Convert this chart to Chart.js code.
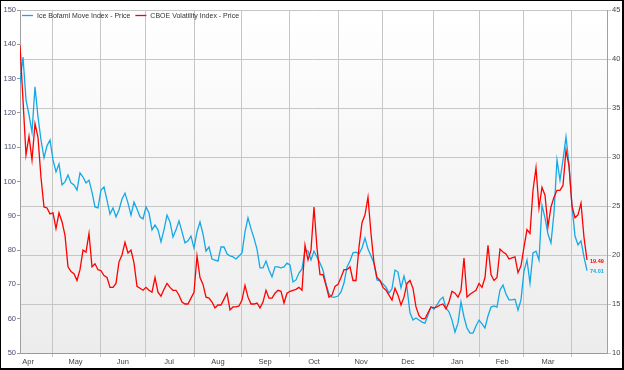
<!DOCTYPE html>
<html>
<head>
<meta charset="utf-8">
<script src="https://cdn.jsdelivr.net/npm/chart.js@4"></script>
<style>
  html, body { margin: 0; padding: 0; background: #fff; }
  #wrap {
    width: 621px; height: 367px; position: relative;
    border-style: solid; border-color: #000; border-width: 1px 2px 2px 1px;
  }
</style>
</head>
<body>
<div id="wrap"><canvas id="chart"></canvas></div>
<script>
// one value per sample step (Apr .. early Apr)
const moveValues = [
  128.7, 136.3, 123.8, 119.4, 114.4, 127.6, 118.8, 112.1, 106.9, 110.4,
  112.1, 106.3, 102.8, 105.1, 99.0, 99.9, 101.9, 99.6, 99.0, 97.5,
  102.5, 101.3, 99.6, 100.4, 96.9, 92.6, 92.3, 97.5, 98.4, 94.6,
  90.5, 92.3, 89.7, 91.7, 94.9, 96.6, 93.7, 90.2, 94.0, 92.0,
  89.7, 89.1, 92.6, 90.8, 85.9, 87.3, 85.9, 82.4, 85.9, 90.2,
  88.2, 83.8, 85.9, 88.5, 85.3, 82.1, 82.7, 84.1, 80.6, 85.3,
  88.2, 84.7, 79.7, 80.9, 77.4, 77.1, 76.8, 80.9, 80.9, 78.9,
  78.3, 78.0, 77.4, 78.3, 79.2, 85.3, 89.4, 86.2, 83.5, 80.3,
  74.8, 74.8, 76.8, 74.2, 72.2, 75.1, 75.1, 74.8, 75.1, 76.2,
  75.7, 70.7, 71.3, 73.3, 74.5, 80.0, 79.7, 77.1, 79.7, 78.0,
  76.2, 74.2, 70.1, 67.2, 66.3, 66.3, 66.6, 67.8, 70.4, 75.1,
  76.8, 79.2, 79.4, 78.9, 80.6, 83.5, 80.3, 78.3, 76.2, 71.3,
  71.0, 70.1, 69.2, 67.5, 68.7, 74.2, 73.6, 69.0, 72.4, 69.0,
  61.7, 59.6, 60.2, 59.6, 59.0, 58.7, 61.1, 63.4, 62.8, 64.0,
  65.5, 66.3, 63.1, 62.0, 59.6, 56.1, 58.7, 64.9, 60.5, 57.3,
  55.8, 55.8, 57.9, 59.6, 58.5, 57.3, 60.8, 63.4, 63.7, 63.4,
  68.4, 69.8, 67.2, 65.5, 65.5, 65.7, 62.5, 65.5, 73.9, 77.1,
  70.4, 79.2, 79.7, 77.1, 93.1, 89.4, 84.7, 82.1, 90.8, 106.3,
  100.4, 106.3, 113.0, 105.1, 92.9, 84.1, 81.5, 82.7, 78.0, 74.01
];

const vixValues = [
  41.4, 35.8, 30.2, 32.1, 29.7, 33.4, 32.0, 27.9, 24.9, 24.8,
  24.2, 24.3, 22.7, 24.3, 23.4, 22.0, 18.8, 18.3, 18.1, 17.4,
  18.5, 20.5, 20.3, 22.2, 18.8, 19.1, 18.5, 18.4, 17.9, 17.7,
  16.7, 16.7, 17.1, 19.3, 20.0, 21.3, 20.2, 20.5, 19.2, 16.8,
  16.6, 16.4, 16.7, 16.4, 16.2, 17.7, 16.2, 15.8, 16.5, 17.1,
  16.7, 16.4, 16.4, 15.9, 15.2, 15.0, 15.0, 15.6, 16.2, 19.9,
  17.7, 17.0, 15.7, 15.6, 15.2, 14.6, 14.9, 14.9, 15.5, 16.1,
  14.4, 14.7, 14.7, 14.8, 15.4, 16.9, 15.7, 15.0, 15.0, 15.1,
  14.6, 15.2, 16.4, 15.6, 15.6, 16.1, 16.4, 16.3, 15.1, 16.1,
  16.3, 16.4, 16.5, 16.7, 16.4, 21.0, 19.5, 20.5, 24.9, 20.7,
  18.0, 18.0, 16.9, 15.7, 15.9, 16.8, 17.0, 17.7, 18.5, 18.5,
  18.8, 17.4, 17.4, 20.8, 23.3, 24.1, 25.9, 22.2, 19.2, 17.7,
  17.4, 16.7, 16.4, 15.9, 15.4, 16.6, 15.9, 14.9, 15.7, 17.1,
  17.4, 16.6, 14.7, 13.8, 13.5, 13.5, 14.1, 14.7, 14.6, 14.7,
  14.9, 15.0, 14.5, 15.2, 16.3, 16.1, 15.7, 16.4, 19.7, 15.7,
  16.0, 16.2, 16.4, 17.1, 16.7, 17.7, 21.0, 18.0, 17.4, 17.7,
  20.6, 20.3, 20.1, 19.6, 19.7, 19.8, 18.2, 18.9, 20.8, 22.6,
  22.2, 26.6, 28.9, 24.8, 26.9, 26.1, 22.9, 24.9, 25.9, 26.6,
  26.6, 27.1, 30.7, 29.1, 25.0, 23.8, 24.1, 25.3, 21.8, 19.49
];

const monthNames = ['Apr', 'May', 'Jun', 'Jul', 'Aug', 'Sep', 'Oct', 'Nov', 'Dec', 'Jan', 'Feb', 'Mar'];
// month boundaries and label centres, in sample steps
const monthStarts = [10.67, 26.67, 42, 58.33, 73.67, 89.67, 106.33, 121, 137.67, 153.33, 168, 184];
const monthLabelPos = [2.7, 18.5, 34.3, 49.7, 66, 81.7, 98, 113.7, 129.3, 145.7, 160.7, 176];
const xMax = 195.67;

const FONT = 'Liberation Sans, Arial, sans-serif';
const RED = '#ff0000';
const BLUE = '#14a9e6';

const plotBackground = {
    id: 'plotBackground',
    beforeDraw(chart) {
        const { ctx, chartArea: a } = chart;
        const g = ctx.createLinearGradient(0, a.top, 0, a.bottom);
        g.addColorStop(0, '#ffffff');
        g.addColorStop(1, '#ececec');
        ctx.save();
        ctx.fillStyle = g;
        ctx.fillRect(a.left, a.top, a.right - a.left, a.bottom - a.top);
        ctx.restore();
    }
};

// legend drawn in one row inside the top-left of the plot
const innerLegend = {
    id: 'innerLegend',
    afterDraw(chart) {
        const { ctx, chartArea: a } = chart;
        let x = a.left + 2;
        const y = a.top + 5.5;
        ctx.save();
        ctx.font = '7px ' + FONT;
        ctx.textBaseline = 'middle';
        chart.data.datasets.forEach(ds => {
            ctx.strokeStyle = ds.borderColor;
            ctx.lineWidth = 1.3;
            ctx.beginPath();
            ctx.moveTo(x, y);
            ctx.lineTo(x + 11, y);
            ctx.stroke();
            ctx.fillStyle = '#333';
            ctx.fillText(ds.label, x + 15, y + 0.5);
            x += 15 + ctx.measureText(ds.label).width + 5;
        });
        ctx.restore();
    }
};

const endLabels = {
    id: 'endLabels',
    afterDatasetsDraw(chart) {
        const ctx = chart.ctx;
        ctx.save();
        ctx.font = 'bold 5.5px ' + FONT;
        ctx.textBaseline = 'middle';
        chart.data.datasets.forEach((ds, i) => {
            const pts = chart.getDatasetMeta(i).data;
            const last = pts[pts.length - 1];
            const v = ds.data[ds.data.length - 1].y;
            ctx.fillStyle = ds.borderColor;
            ctx.fillText(v.toFixed(2), last.x + 3, last.y + 1);
        });
        ctx.restore();
    }
};

const xTicks = monthStarts.map(v => ({ value: v, boundary: true }))
    .concat(monthLabelPos.map((v, i) => ({ value: v, name: monthNames[i] })))
    .sort((a, b) => a.value - b.value);

new Chart(document.getElementById('chart'), {
    type: 'line',
    data: {
        datasets: [{
            label: 'Ice Bofaml Move Index - Price',
            data: moveValues.map((v, i) => ({ x: i, y: v })),
            borderColor: BLUE,
            borderWidth: 1.3,
            pointRadius: 0,
            tension: 0,
            yAxisID: 'y1',
            order: 1
        }, {
            label: 'CBOE Volatility Index - Price',
            data: vixValues.map((v, i) => ({ x: i, y: v })),
            borderColor: RED,
            borderWidth: 1.3,
            pointRadius: 0,
            tension: 0,
            yAxisID: 'y',
            order: 0
        }]
    },
    options: {
        responsive: true,
        maintainAspectRatio: false,
        animation: false,
        events: [],
        layout: { padding: { top: 9, left: 0, right: 0, bottom: 0 } },
        plugins: {
            tooltip: { enabled: false },
            legend: { display: false }
        },
        scales: {
            x: {
                type: 'linear',
                min: 0,
                max: xMax,
                afterBuildTicks: axis => { axis.ticks = xTicks.map(t => Object.assign({}, t)); },
                afterFit: axis => { axis.height = 15; },
                ticks: {
                    autoSkip: false,
                    maxRotation: 0,
                    padding: 0,
                    color: '#4a4444',
                    font: { family: FONT, size: 7.5 },
                    callback: (v, i, ticks) => ticks[i].name || ''
                },
                grid: {
                    color: c => (c.tick && c.tick.boundary) ? '#c6c6c6' : 'rgba(0,0,0,0)',
                    tickLength: 4
                },
                border: { color: '#9a9a9a', width: 1 }
            },
            y1: {
                position: 'left',
                min: 50,
                max: 150,
                afterFit: axis => { axis.width = 19; },
                ticks: {
                    stepSize: 10,
                    padding: 1,
                    color: '#4a4f6e',
                    font: { family: FONT, size: 7.5 }
                },
                grid: { drawOnChartArea: false, tickLength: 3, color: '#999' },
                border: { color: '#a0a0a0' }
            },
            y: {
                position: 'right',
                min: 10,
                max: 45,
                afterFit: axis => { axis.width = 15; },
                ticks: {
                    stepSize: 5,
                    padding: 1,
                    color: '#444',
                    font: { family: FONT, size: 7.5 }
                },
                grid: { color: '#c6c6c6', tickLength: 4 },
                border: { color: '#a0a0a0' }
            }
        }
    },
    plugins: [plotBackground, innerLegend, endLabels]
});
</script>
</body>
</html>
